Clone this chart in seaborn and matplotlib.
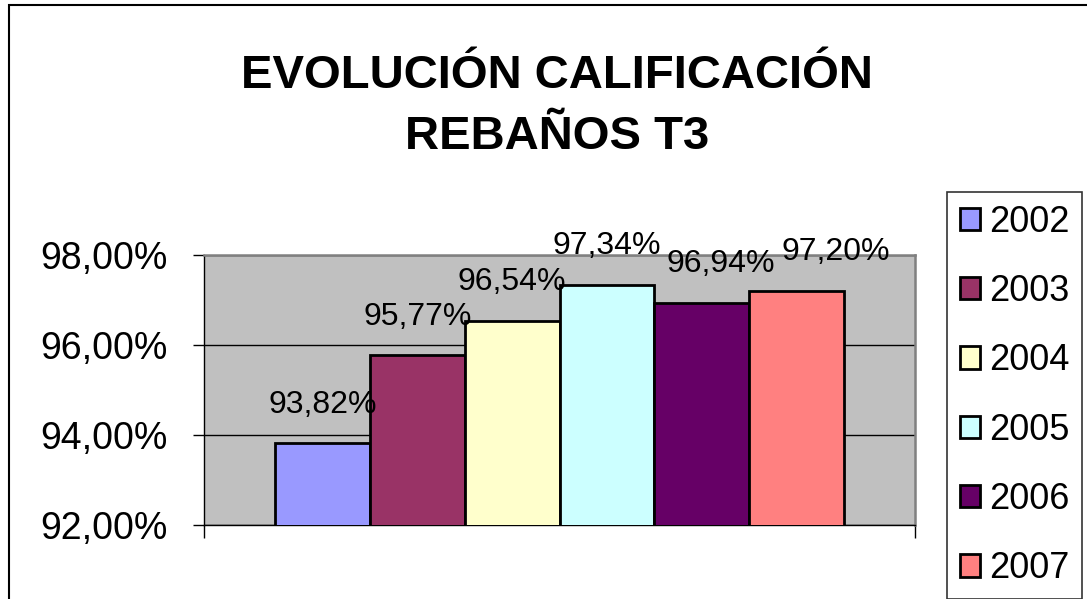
import seaborn as sns
import pandas as pd
import matplotlib.pyplot as plt
from matplotlib.patches import Rectangle

years = ['2002', '2003', '2004', '2005', '2006', '2007']
values = [93.82, 95.77, 96.54, 97.34, 96.94, 97.20]
colors = ['#9999FF', '#993366', '#FFFFCC', '#CCFFFF', '#660066', '#FF8080']
yticks = [92, 94, 96, 98]
title = 'EVOLUCIÓN CALIFICACIÓN\nREBAÑOS T3'

df = pd.DataFrame({'grupo': ['T3'] * len(years), 'anio': years, 'valor': values})

sns.set_style('white')
plt.rcParams['font.family'] = ['Liberation Sans', 'DejaVu Sans']
plt.rcParams['text.color'] = 'black'
plt.rcParams['xtick.color'] = 'black'
plt.rcParams['ytick.color'] = 'black'
plt.rcParams['axes.labelcolor'] = 'black'

fig = plt.figure(figsize=(10.87, 5.99), dpi=100)
ax = fig.add_axes([0.1877, 0.1235, 0.6541, 0.4508])
ax.set_facecolor('#C0C0C0')

sns.barplot(data=df, x='grupo', y='valor', hue='anio', palette=colors,
            edgecolor='black', linewidth=2, width=0.8, saturation=1,
            errorbar=None, ax=ax, zorder=3)

ax.set_ylim(92, 98)
ax.set_xlim(-0.5, 0.5)
ax.set_yticks(yticks)
ax.set_yticklabels([f'{t:.2f}'.replace('.', ',') + '%' for t in yticks], fontsize=27)
ax.set_xticks([-0.5, 0.5])
ax.set_xticklabels(['', ''])
ax.tick_params(axis='y', direction='out', length=8, width=1, color='black', pad=18, left=True)
ax.tick_params(axis='x', direction='out', length=9, width=1, color='black', bottom=True)
ax.set_xlabel('')
ax.set_ylabel('')
ax.yaxis.grid(True, color='black', linewidth=1)
ax.set_axisbelow(True)

for s in ['left', 'bottom']:
    ax.spines[s].set_color('black')
    ax.spines[s].set_linewidth(1)
for s in ['top', 'right']:
    ax.spines[s].set_color('#808080')
    ax.spines[s].set_linewidth(1.8)

# etiquetas de valor: las dos últimas van algo desplazadas a la derecha, como en Excel
shift = [0, 0, 0, 0, 14, 28]
for cont, v, dx in zip(ax.containers, values, shift):
    bar = cont.patches[0]
    ax.annotate(f'{v:.2f}'.replace('.', ',') + '%',
                xy=(bar.get_x() + bar.get_width() / 2, bar.get_height()),
                xytext=(dx, 22), textcoords='offset points',
                ha='center', va='baseline', fontsize=23, annotation_clip=False)

handles, labels = ax.get_legend_handles_labels()
ax.get_legend().remove()
fig.legend(handles, labels, loc='upper left', bbox_to_anchor=(0.8712, 0.6795),
           fontsize=26, frameon=True, fancybox=False, edgecolor='black',
           handlelength=0.57, handleheight=0.57, handletextpad=0.25,
           borderpad=0.35, labelspacing=0.95, borderaxespad=0)
leg = fig.legends[0]
leg.get_frame().set_linewidth(1.2)
for h in leg.legend_handles:
    h.set_edgecolor('black')
    h.set_linewidth(2)

fig.text(0.5125, 0.823, title, ha='center', va='center', fontsize=34,
         fontweight='bold', linespacing=1.5, color='black')

fig.patches.append(Rectangle((0.0083, -0.1), 1.2, 1.0917, transform=fig.transFigure,
                             fill=False, edgecolor='black', linewidth=1.5))

plt.savefig('out.png', dpi=100)
plt.clf()
